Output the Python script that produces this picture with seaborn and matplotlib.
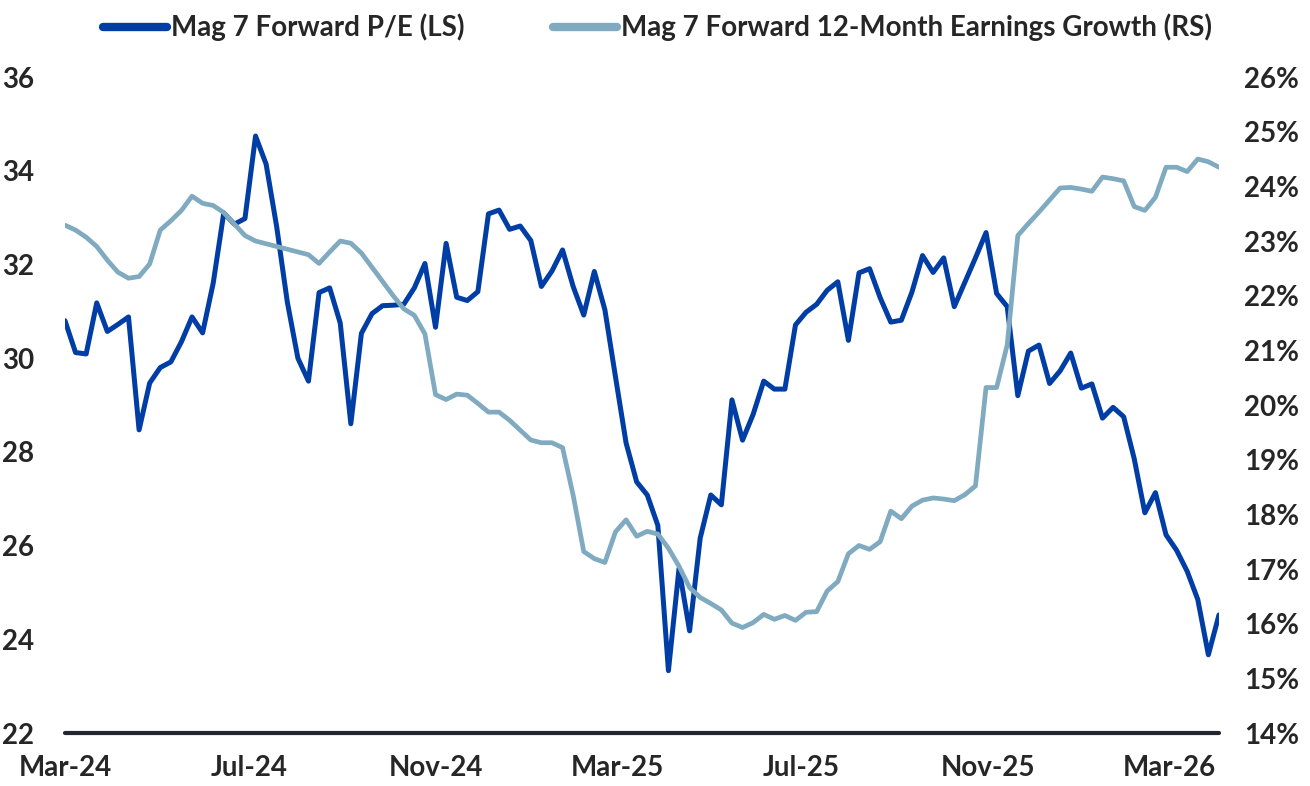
import pandas as pd
import seaborn as sns
import matplotlib.pyplot as plt
import matplotlib.dates as mdates
from matplotlib.lines import Line2D
from matplotlib.ticker import FuncFormatter

# weekly observations, Fridays from 1 Mar 2024
start_date = '2024-03-01'
n_weeks = 110

# Mag 7 forward P/E (left scale)
fwd_pe = [30.80, 30.12, 30.09, 31.18, 30.57, 30.72, 30.88, 28.47, 29.47, 29.80,
          29.92, 30.35, 30.88, 30.54, 31.60, 33.10, 32.86, 32.98, 34.74, 34.14,
          32.80, 31.20, 30.00, 29.51, 31.40, 31.50, 30.75, 28.60, 30.53, 30.95,
          31.12, 31.13, 31.15, 31.50, 32.02, 30.66, 32.45, 31.30, 31.23, 31.42,
          33.08, 33.16, 32.75, 32.82, 32.51, 31.53, 31.86, 32.31, 31.53, 30.92,
          31.85, 31.03, 29.60, 28.19, 27.36, 27.08, 26.43, 23.33, 25.51, 24.18,
          26.16, 27.08, 26.87, 29.11, 28.25, 28.80, 29.51, 29.34, 29.34, 30.71,
          30.98, 31.15, 31.45, 31.63, 30.38, 31.82, 31.91, 31.29, 30.77, 30.81,
          31.41, 32.19, 31.83, 32.14, 31.10, 31.62, 32.14, 32.68, 31.38, 31.10,
          29.20, 30.15, 30.28, 29.46, 29.73, 30.11, 29.36, 29.45, 28.72, 28.95,
          28.75, 27.85, 26.70, 27.13, 26.23, 25.90, 25.45, 24.85, 23.67, 24.52]

# Mag 7 forward 12-month earnings growth, % (right scale)
eps_growth = [23.29, 23.20, 23.07, 22.90, 22.65, 22.43, 22.32, 22.35, 22.58, 23.20,
              23.37, 23.56, 23.82, 23.69, 23.65, 23.52, 23.31, 23.10, 23.00, 22.95,
              22.90, 22.85, 22.80, 22.75, 22.59, 22.80, 23.00, 22.96, 22.78, 22.52,
              22.26, 22.00, 21.76, 21.64, 21.30, 20.19, 20.10, 20.20, 20.18, 20.03,
              19.87, 19.87, 19.72, 19.54, 19.36, 19.31, 19.31, 19.22, 18.35, 17.32,
              17.19, 17.12, 17.68, 17.90, 17.60, 17.69, 17.64, 17.38, 17.05, 16.66,
              16.48, 16.37, 16.25, 16.01, 15.93, 16.02, 16.17, 16.08, 16.15, 16.06,
              16.21, 16.22, 16.60, 16.77, 17.28, 17.43, 17.36, 17.50, 18.06, 17.92,
              18.15, 18.26, 18.30, 18.28, 18.25, 18.36, 18.52, 20.32, 20.32, 21.10,
              23.10, 23.32, 23.53, 23.75, 23.97, 23.98, 23.95, 23.91, 24.17, 24.14,
              24.10, 23.63, 23.56, 23.80, 24.35, 24.35, 24.27, 24.50, 24.45, 24.35]

pe_label = 'Mag 7 Forward P/E (LS)'
eps_label = 'Mag 7 Forward 12-Month Earnings Growth (RS)'
pe_color = '#003da5'
eps_color = '#7faabf'

df = pd.DataFrame({
    'date': pd.date_range(start_date, periods=n_weeks, freq='7D'),
    'pe': fwd_pe,
    'eps': eps_growth,
})

sns.set_style('white')
plt.rcParams['font.family'] = ['Lato', 'DejaVu Sans']
plt.rcParams['font.weight'] = 'bold'

fig = plt.figure(figsize=(13.1, 7.86), dpi=100)
ax = fig.add_axes([0.0496, 0.0674, 0.8809, 0.8346])
ax2 = ax.twinx()

sns.lineplot(data=df, x='date', y='pe', ax=ax, color=pe_color, lw=3.6, legend=False)
sns.lineplot(data=df, x='date', y='eps', ax=ax2, color=eps_color, lw=3.4, legend=False)

ax.set_xlim(df['date'].iloc[0], df['date'].iloc[-1])
ax.set_ylim(22, 36)
ax2.set_ylim(14, 26)
ax.set_yticks(range(22, 37, 2))
ax2.set_yticks(range(14, 27, 1))
ax2.yaxis.set_major_formatter(FuncFormatter(lambda v, p: f'{v:.0f}%'))

ax.xaxis.set_major_locator(mdates.MonthLocator(bymonth=[3, 7, 11]))
ax.xaxis.set_major_formatter(mdates.DateFormatter('%b-%y'))

for a in (ax, ax2):
    a.set_xlabel('')
    a.set_ylabel('')
    for side in ('left', 'right', 'top'):
        a.spines[side].set_visible(False)
    a.spines['bottom'].set_visible(False)
    a.grid(False)

ax.spines['bottom'].set_visible(True)
ax.spines['bottom'].set_color('#23262e')
ax.spines['bottom'].set_linewidth(3)
ax.spines['bottom'].set_capstyle('round')

ax.tick_params(axis='x', length=0, pad=16, labelsize=20)
ax.tick_params(axis='y', length=0, pad=22, labelsize=20)
ax2.tick_params(axis='y', length=0, pad=18, labelsize=20)

handles = [Line2D([0], [0], color=pe_color, lw=6, solid_capstyle='round'),
           Line2D([0], [0], color=eps_color, lw=6, solid_capstyle='round')]
fig.legend(handles, [pe_label, eps_label], loc='center', bbox_to_anchor=(0.502, 0.965),
           ncol=2, frameon=False, fontsize=20, handlelength=2.3, handletextpad=0.15,
           columnspacing=3.2)

fig.savefig('out.png', dpi=100)
